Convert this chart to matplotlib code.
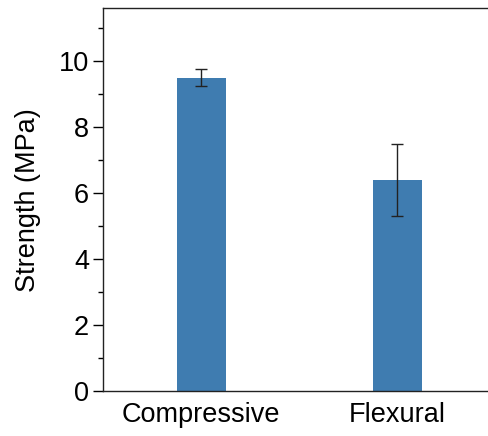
import numpy as np
import matplotlib.pyplot as plt
from matplotlib.ticker import MultipleLocator

plt.rcParams['font.family'] = ['Liberation Sans', 'DejaVu Sans']

categories = ['Compressive', 'Flexural']
strength = [9.5, 6.4]
strength_err = [0.25, 1.1]

fig = plt.figure(figsize=(4.88, 4.36), dpi=100)
ax = fig.add_axes([0.211, 0.103, 0.804, 0.878])

x = np.arange(len(categories))
ax.bar(x, strength, width=0.25, color='#3f7cb0', zorder=2)
ax.errorbar(x, strength, yerr=strength_err, fmt='none', ecolor='#222222',
            elinewidth=1, capsize=4.5, capthick=1, zorder=3)

ax.set_xlim(-0.5, 1.5)
ax.set_ylim(0, 11.6)
ax.set_xticks(x)
ax.set_xticklabels(categories)
ax.yaxis.set_major_locator(MultipleLocator(2))
ax.yaxis.set_minor_locator(MultipleLocator(1))
ax.set_ylabel('Strength (MPa)', fontsize=19.5, labelpad=13)

ax.tick_params(axis='y', which='major', length=7, width=1, labelsize=19.5, pad=3)
ax.tick_params(axis='y', which='minor', length=3.5, width=1)
ax.tick_params(axis='x', length=0, labelsize=19.5, pad=8)
for s in ax.spines.values():
    s.set_linewidth(1)
    s.set_color('#222222')

fig.savefig('out.png', dpi=100)
